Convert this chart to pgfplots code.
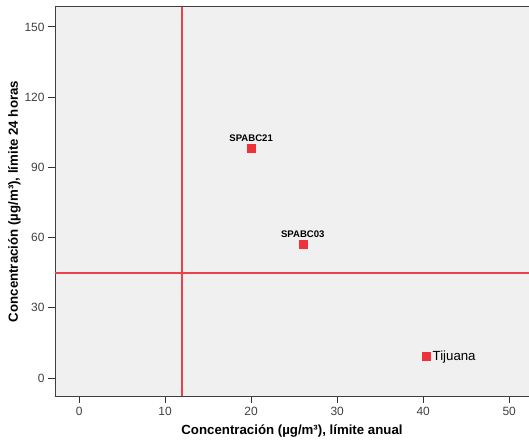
\documentclass[border=0pt]{standalone}
\usepackage{pgfplots}
\pgfplotsset{compat=1.18}
\usepackage{fontspec}
\setmainfont{Liberation Sans}
\definecolor{bgplot}{HTML}{F0F0F0}
\definecolor{refline}{HTML}{EE4048}
\definecolor{ptred}{HTML}{F0303A}
\definecolor{ticktext}{HTML}{404040}
\begin{document}
\begin{tikzpicture}[x=1bp,y=1bp]
\begin{axis}[
  at={(0,0)}, anchor=south west,
  scale only axis,
  width=474bp, height=389bp,
  xmin=-2.8, xmax=52.3,
  ymin=-7.7, ymax=158.5,
  xtick={0,10,...,50},
  ytick={0,30,...,150},
  tick pos=left,
  tick align=outside,
  major tick length=7bp,
  tick style={draw=black!80, line width=0.8pt},
  axis line style={draw=black!75, line width=1pt},
  axis background/.style={fill=bgplot},
  ticklabel style={font=\fontsize{12}{14}\selectfont, text=ticktext},
  /pgf/number format/assume math mode=true,
  xticklabel style={yshift=-1bp},
  xlabel={Concentración (µg/m³), límite anual},
  ylabel={Concentración (µg/m³), límite 24 horas},
  label style={font=\bfseries\fontsize{13.3}{15}\selectfont},
  xlabel style={at={(rel axis cs:0.5,0)}, anchor=base, yshift=-38bp},
  ylabel style={at={(rel axis cs:0,0.5)}, anchor=base, yshift=37bp},
  clip=false,
]
% reference limits
\addplot[refline, line width=1.9pt, forget plot] coordinates {(12,-7.7) (12,158.5)};
\addplot[refline, line width=1.9pt, forget plot] coordinates {(-2.8,45) (52.3,45)};

% monitoring stations
\addplot[only marks, mark=square*, mark size=4bp, mark options={fill=ptred, draw=ptred},
  nodes near coords, point meta=explicit symbolic,
  every node near coord/.style={font=\bfseries\fontsize{9.6}{11}\selectfont, anchor=south, yshift=3bp}]
  coordinates {(20,98.2) [SPABC21] (26,57.3) [SPABC03]};
\addplot[only marks, mark=square*, mark size=4bp, mark options={fill=ptred, draw=ptred},
  nodes near coords, point meta=explicit symbolic,
  every node near coord/.style={font=\fontsize{13.3}{15}\selectfont, anchor=west, xshift=2.5bp, yshift=-1bp}]
  coordinates {(40.4,9.5) [Tijuana]};
\end{axis}
\pgfresetboundingbox
\path (-55bp,-47bp) rectangle (474bp,396bp);
\end{tikzpicture}
\end{document}
